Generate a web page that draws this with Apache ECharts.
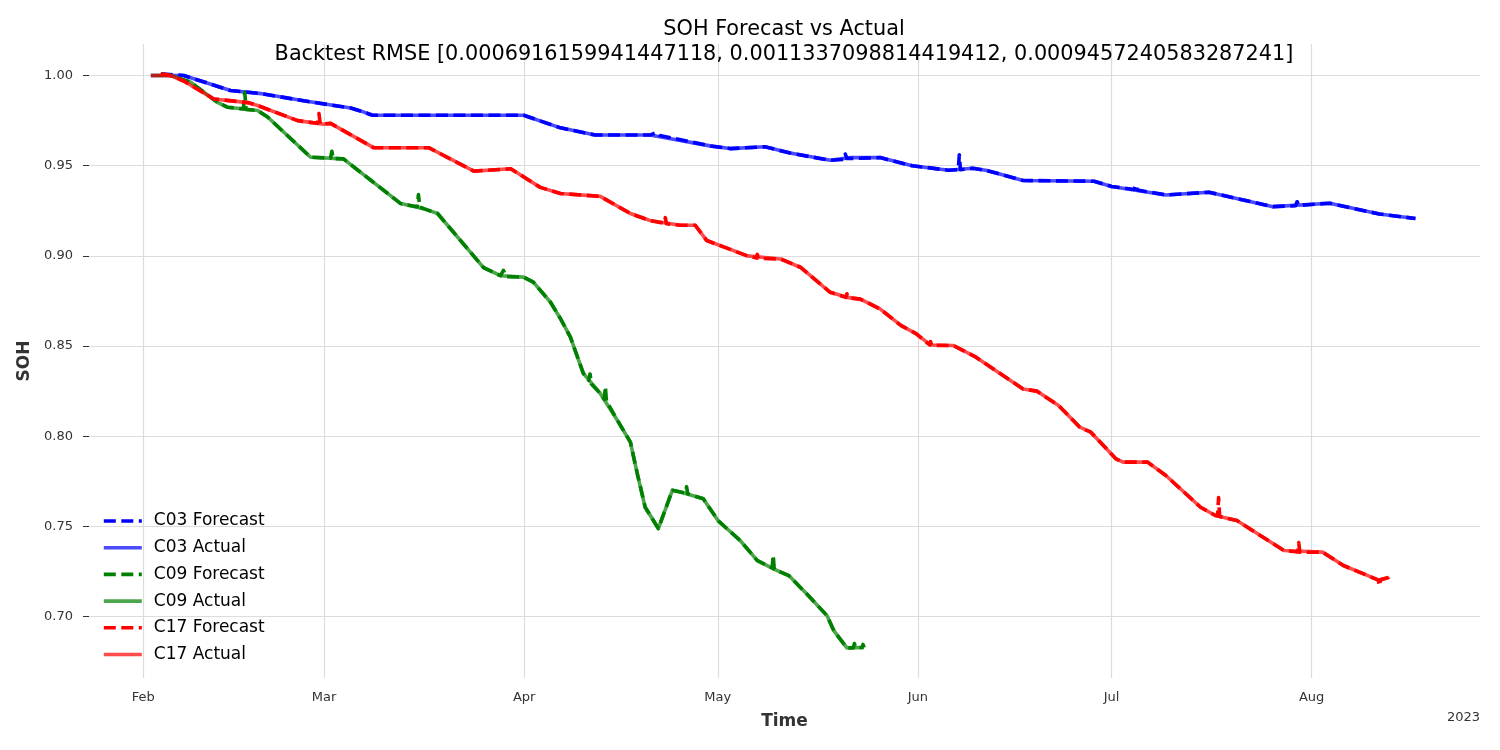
<!DOCTYPE html>
<html>
<head>
<meta charset="utf-8">
<title>SOH Forecast vs Actual</title>
<script src="https://cdn.jsdelivr.net/npm/echarts@6.0.0/dist/echarts.min.js"></script>
<style>
    html, body { margin: 0; padding: 0; background: #fff; }
    #sohChart { width: 1500px; height: 750px; }
</style>
</head>
<body>
<div id="sohChart"></div>
<script>
'use strict';

// title text
var chartTitle = 'SOH Forecast vs Actual\nBacktest RMSE [0.0006916159941447118, 0.0011337098814419412, 0.0009457240583287241]';
var monthNames = ['Jan','Feb','Mar','Apr','May','Jun','Jul','Aug','Sep','Oct','Nov','Dec'];

// C03
var c03Forecast = [
    ['2023-02-03 17:00',1.001],['2023-02-07 06:00',1.000],['2023-02-09 22:00',0.997],
    ['2023-02-14 12:00',0.9917],['2023-02-19 05:00',0.990],['2023-02-25 20:00',0.986],
    ['2023-03-05 03:00',0.982],['2023-03-06 23:00',0.980],['2023-03-08 12:00',0.978],
    ['2023-03-31 22:00',0.978],['2023-04-06 15:00',0.971],['2023-04-12 00:00',0.967],
    ['2023-04-20 12:00',0.967],['2023-04-21 12:00',0.9685],['2023-04-22 00:00',0.9668],
    ['2023-04-29 19:00',0.961],['2023-05-02 22:00',0.9595],['2023-05-08 07:00',0.9605],
    ['2023-05-12 05:00',0.957],['2023-05-18 10:00',0.953],['2023-05-20 12:00',0.9535],
    ['2023-05-20 18:00',0.9565],['2023-05-21 00:00',0.954],['2023-05-26 03:00',0.9545],
    ['2023-05-31 03:00',0.950],['2023-06-05 17:00',0.9475],['2023-06-07 06:00',0.9478],
    ['2023-06-07 10:00',0.956],['2023-06-07 14:00',0.9478],['2023-06-09 12:00',0.9486],
    ['2023-06-11 17:00',0.9473],['2023-06-17 07:00',0.9418],['2023-06-28 07:00',0.9414],
    ['2023-07-01 00:00',0.9385],['2023-07-04 12:00',0.9368],['2023-07-04 18:00',0.9395],
    ['2023-07-05 00:00',0.9365],['2023-07-09 10:00',0.9338],['2023-07-16 02:00',0.9353],
    ['2023-07-26 00:00',0.9273],['2023-07-29 12:00',0.9278],['2023-07-29 18:00',0.930],
    ['2023-07-30 00:00',0.928],['2023-08-03 19:00',0.9292],['2023-08-11 12:00',0.9232],
    ['2023-08-17 02:00',0.9207]
];
var c03Actual = [
    ['2023-02-02 04:00',1.000],['2023-02-07 06:00',1.000],['2023-02-09 22:00',0.997],
    ['2023-02-14 12:00',0.9917],['2023-02-19 05:00',0.990],['2023-02-25 20:00',0.986],
    ['2023-03-05 03:00',0.982],['2023-03-06 23:00',0.980],['2023-03-08 12:00',0.978],
    ['2023-03-31 22:00',0.978],['2023-04-06 15:00',0.971],['2023-04-12 00:00',0.967],
    ['2023-04-20 12:00',0.967],['2023-04-29 19:00',0.961],['2023-05-02 22:00',0.9595],
    ['2023-05-08 07:00',0.9605],['2023-05-12 05:00',0.957],['2023-05-18 10:00',0.953],
    ['2023-05-21 12:00',0.9545],['2023-05-26 03:00',0.9545],['2023-05-31 03:00',0.950],
    ['2023-06-05 17:00',0.9475],['2023-06-09 12:00',0.9486],['2023-06-11 17:00',0.9473],
    ['2023-06-17 07:00',0.9418],['2023-06-28 07:00',0.9414],['2023-07-01 00:00',0.9385],
    ['2023-07-09 10:00',0.9338],['2023-07-16 02:00',0.9353],['2023-07-26 00:00',0.9273],
    ['2023-08-03 19:00',0.9292],['2023-08-11 12:00',0.9232],['2023-08-17 02:00',0.9207]
];

// C09
var c09Forecast = [
    ['2023-02-03 17:00',1.001],['2023-02-05 06:00',1.000],['2023-02-08 08:00',0.9963],
    ['2023-02-12 13:00',0.985],['2023-02-14 02:00',0.9824],['2023-02-16 12:00',0.9815],
    ['2023-02-16 17:00',0.9908],['2023-02-16 22:00',0.9812],['2023-02-18 17:00',0.9806],
    ['2023-02-20 06:00',0.977],['2023-02-26 22:00',0.9547],['2023-03-02 00:00',0.9542],
    ['2023-03-02 05:00',0.958],['2023-03-02 10:00',0.954],['2023-03-04 00:00',0.9538],
    ['2023-03-12 21:00',0.929],['2023-03-15 10:00',0.9272],['2023-03-15 15:00',0.934],
    ['2023-03-15 20:00',0.927],['2023-03-16 10:00',0.9262],['2023-03-18 14:00',0.9235],
    ['2023-03-25 17:00',0.8935],['2023-03-28 08:00',0.889],['2023-03-28 19:00',0.892],
    ['2023-03-29 04:00',0.8885],['2023-03-31 22:00',0.8882],['2023-04-02 10:00',0.8854],
    ['2023-04-05 02:00',0.8743],['2023-04-06 15:00',0.8652],['2023-04-08 04:00',0.8549],
    ['2023-04-10 04:00',0.8348],['2023-04-11 00:00',0.831],['2023-04-11 05:00',0.8345],
    ['2023-04-11 10:00',0.829],['2023-04-12 19:00',0.8237],['2023-04-13 10:00',0.8205],
    ['2023-04-13 14:00',0.8275],['2023-04-13 18:00',0.8195],['2023-04-15 11:00',0.8087],
    ['2023-04-17 11:00',0.7967],['2023-04-18 13:00',0.779],['2023-04-19 18:00',0.7606],
    ['2023-04-21 19:00',0.7488],['2023-04-23 23:00',0.770],['2023-04-25 05:00',0.769],
    ['2023-04-26 00:00',0.7685],['2023-04-26 04:00',0.772],['2023-04-26 08:00',0.768],
    ['2023-04-28 18:00',0.7653],['2023-05-01 02:00',0.753],['2023-05-04 12:00',0.742],
    ['2023-05-07 03:00',0.731],['2023-05-09 10:00',0.727],['2023-05-09 14:00',0.734],
    ['2023-05-09 18:00',0.7262],['2023-05-12 00:00',0.7227],['2023-05-14 19:00',0.7125],
    ['2023-05-17 22:00',0.7005],['2023-05-19 00:00',0.692],['2023-05-21 00:00',0.6826],
    ['2023-05-22 00:00',0.6826],['2023-05-22 04:00',0.685],['2023-05-22 08:00',0.6828],
    ['2023-05-23 09:00',0.6828],['2023-05-23 12:00',0.6845],['2023-05-23 16:00',0.6828]
];
var c09Actual = [
    ['2023-02-02 04:00',1.000],['2023-02-05 06:00',1.000],['2023-02-08 08:00',0.9963],
    ['2023-02-12 13:00',0.985],['2023-02-14 02:00',0.9824],['2023-02-18 17:00',0.9806],
    ['2023-02-20 06:00',0.977],['2023-02-26 22:00',0.9547],['2023-03-04 00:00',0.9538],
    ['2023-03-12 21:00',0.929],['2023-03-16 10:00',0.9262],['2023-03-18 14:00',0.9235],
    ['2023-03-25 17:00',0.8935],['2023-03-28 08:00',0.889],['2023-03-31 22:00',0.8882],
    ['2023-04-02 10:00',0.8854],['2023-04-05 02:00',0.8743],['2023-04-06 15:00',0.8652],
    ['2023-04-08 04:00',0.8549],['2023-04-10 04:00',0.8348],['2023-04-12 19:00',0.8237],
    ['2023-04-15 11:00',0.8087],['2023-04-17 11:00',0.7967],['2023-04-18 13:00',0.779],
    ['2023-04-19 18:00',0.7606],['2023-04-21 19:00',0.7488],['2023-04-23 23:00',0.770],
    ['2023-04-25 05:00',0.769],['2023-04-28 18:00',0.7653],['2023-05-01 02:00',0.753],
    ['2023-05-04 12:00',0.742],['2023-05-07 03:00',0.731],['2023-05-09 14:00',0.7265],
    ['2023-05-12 00:00',0.7227],['2023-05-14 19:00',0.7125],['2023-05-17 22:00',0.7005],
    ['2023-05-19 00:00',0.692],['2023-05-21 00:00',0.6826],['2023-05-23 16:00',0.6828]
];

// C17
var c17Forecast = [
    ['2023-02-03 17:00',1.001],['2023-02-05 06:00',1.000],['2023-02-07 06:00',0.997],
    ['2023-02-11 22:00',0.987],['2023-02-17 04:00',0.985],['2023-02-18 17:00',0.9834],
    ['2023-02-24 22:00',0.975],['2023-02-28 00:00',0.9735],['2023-02-28 05:00',0.979],
    ['2023-02-28 10:00',0.973],['2023-03-02 00:00',0.9735],['2023-03-08 16:00',0.960],
    ['2023-03-17 05:00',0.960],['2023-03-24 05:00',0.947],['2023-03-29 22:00',0.9483],
    ['2023-04-03 12:00',0.938],['2023-04-06 15:00',0.9346],['2023-04-12 19:00',0.933],
    ['2023-04-17 11:00',0.9235],['2023-04-20 12:00',0.9196],['2023-04-22 17:00',0.918],
    ['2023-04-22 21:00',0.9212],['2023-04-23 01:00',0.9178],['2023-04-25 05:00',0.917],
    ['2023-04-27 12:00',0.917],['2023-04-29 07:00',0.9085],['2023-05-05 14:00',0.900],
    ['2023-05-07 00:00',0.8988],['2023-05-07 03:00',0.9008],['2023-05-07 06:00',0.8986],
    ['2023-05-10 17:00',0.8983],['2023-05-13 19:00',0.8937],['2023-05-18 10:00',0.8798],
    ['2023-05-20 20:00',0.877],['2023-05-21 00:00',0.879],['2023-05-21 04:00',0.8768],
    ['2023-05-23 02:00',0.876],['2023-05-26 03:00',0.8706],['2023-05-29 10:00',0.8613],
    ['2023-05-31 17:00',0.8569],['2023-06-02 20:00',0.8506],['2023-06-02 23:00',0.8525],
    ['2023-06-03 03:00',0.8504],['2023-06-06 12:00',0.8503],['2023-06-10 00:00',0.8438],
    ['2023-06-17 07:00',0.8262],['2023-06-19 10:00',0.825],['2023-06-22 19:00',0.817],
    ['2023-06-26 02:00',0.805],['2023-06-27 19:00',0.8022],['2023-07-01 17:00',0.7874],
    ['2023-07-02 19:00',0.7856],['2023-07-06 14:00',0.7856],['2023-07-09 10:00',0.7782],
    ['2023-07-14 19:00',0.7606],['2023-07-17 02:00',0.756],['2023-07-17 10:00',0.7558],
    ['2023-07-17 14:00',0.766],['2023-07-17 18:00',0.7555],['2023-07-20 10:00',0.7532],
    ['2023-07-27 17:00',0.7366],['2023-07-29 20:00',0.7358],['2023-07-30 00:00',0.741],
    ['2023-07-30 04:00',0.7356],['2023-08-02 17:00',0.7357],['2023-08-05 22:00',0.7283],
    ['2023-08-11 08:00',0.7202],['2023-08-11 12:00',0.717],['2023-08-11 16:00',0.7205],
    ['2023-08-12 22:00',0.7216],['2023-08-13 02:00',0.7228]
];
var c17Actual = [
    ['2023-02-02 04:00',1.000],['2023-02-05 06:00',1.000],['2023-02-07 06:00',0.997],
    ['2023-02-11 22:00',0.987],['2023-02-17 04:00',0.985],['2023-02-18 17:00',0.9834],
    ['2023-02-24 22:00',0.975],['2023-02-28 22:00',0.973],['2023-03-02 00:00',0.9735],
    ['2023-03-08 16:00',0.960],['2023-03-17 05:00',0.960],['2023-03-24 05:00',0.947],
    ['2023-03-29 22:00',0.9483],['2023-04-03 12:00',0.938],['2023-04-06 15:00',0.9346],
    ['2023-04-12 19:00',0.933],['2023-04-17 11:00',0.9235],['2023-04-20 12:00',0.9196],
    ['2023-04-25 05:00',0.917],['2023-04-27 12:00',0.917],['2023-04-29 07:00',0.9085],
    ['2023-05-05 14:00',0.900],['2023-05-10 17:00',0.8983],['2023-05-13 19:00',0.8937],
    ['2023-05-18 10:00',0.8798],['2023-05-21 00:00',0.877],['2023-05-23 02:00',0.876],
    ['2023-05-26 03:00',0.8706],['2023-05-29 10:00',0.8613],['2023-05-31 17:00',0.8569],
    ['2023-06-02 22:00',0.8506],['2023-06-06 12:00',0.8503],['2023-06-10 00:00',0.8438],
    ['2023-06-17 07:00',0.8262],['2023-06-19 10:00',0.825],['2023-06-22 19:00',0.817],
    ['2023-06-26 02:00',0.805],['2023-06-27 19:00',0.8022],['2023-07-01 17:00',0.7874],
    ['2023-07-02 19:00',0.7856],['2023-07-06 14:00',0.7856],['2023-07-09 10:00',0.7782],
    ['2023-07-14 19:00',0.7606],['2023-07-17 02:00',0.756],['2023-07-20 10:00',0.7532],
    ['2023-07-27 17:00',0.7366],['2023-08-02 17:00',0.7357],['2023-08-05 22:00',0.7283],
    ['2023-08-11 12:00',0.720],['2023-08-12 22:00',0.7216]
];

var legendNames = ['C03 Forecast','C03 Actual','C09 Forecast','C09 Actual','C17 Forecast','C17 Actual'];
var lineColors = ['#0000ff','rgba(0,0,255,0.7)','#008000','rgba(0,128,0,0.7)','#ff0000','rgba(255,0,0,0.7)'];
var lineData = [c03Forecast, c03Actual, c09Forecast, c09Actual, c17Forecast, c17Actual];

initSohChart();

function initSohChart() {
    var myChart = echarts.init(document.getElementById('sohChart'));
    var font = 'DejaVu Sans';

    var series = [];
    for (var i = 0; i < legendNames.length; i++) {
        var isForecast = legendNames[i].indexOf('Forecast') > -1;
        series.push({
            name: legendNames[i],
            type: 'line',
            data: lineData[i],
            symbol: 'none',
            showSymbol: false,
            color: lineColors[i],
            lineStyle: {
                color: lineColors[i],
                width: 3.6,
                type: isForecast ? [12, 5.5] : 'solid',
                cap: 'butt',
                join: 'round'
            },
            emphasis: { disabled: true }
        });
    }

    var option = {
        animation: false,
        backgroundColor: '#fff',
        textStyle: { fontFamily: font },
        title: {
            text: chartTitle,
            left: 784,
            top: 17,
            padding: 0,
            textAlign: 'center',
            textStyle: {
                fontFamily: font,
                fontSize: 20.8,
                fontWeight: 'normal',
                color: '#000',
                lineHeight: 25
            }
        },
        legend: {
            orient: 'vertical',
            left: 102,
            top: 512.5,
            padding: 0,
            itemWidth: 38,
            itemHeight: 14,
            itemGap: 9.7,
            data: legendNames,
            // hide the marker circle, keep only the line
            itemStyle: { opacity: 0 },
            lineStyle: { width: 3.6 },
            textStyle: {
                fontFamily: font,
                fontSize: 17,
                lineHeight: 17,
                color: '#000',
                padding: [0, 0, 0, 7]
            }
        },
        grid: {
            left: 89,
            right: 20,
            top: 44,
            bottom: 72,
            containLabel: false
        },
        xAxis: {
            type: 'time',
            min: '2023-01-23 14:00',
            max: '2023-08-27 02:00',
            splitNumber: 7,
            name: 'Time',
            nameLocation: 'middle',
            nameGap: 35,
            nameTextStyle: { fontFamily: font, fontSize: 17, fontWeight: 'bold', color: '#333' },
            axisLine: { show: false },
            axisTick: { show: false },
            axisLabel: {
                margin: 13,
                fontFamily: font,
                fontSize: 13,
                color: '#333',
                showMinLabel: false,
                showMaxLabel: false,
                formatter: function (v) {
                    return monthNames[new Date(v).getMonth()];
                }
            },
            splitLine: {
                show: true,
                showMinLine: false,
                showMaxLine: false,
                lineStyle: { color: '#dcdcdc', width: 1.2 }
            }
        },
        yAxis: {
            type: 'value',
            min: 0.6659,
            max: 1.0175,
            splitNumber: 7,
            name: 'SOH',
            nameLocation: 'middle',
            nameGap: 53,
            nameTextStyle: { fontFamily: font, fontSize: 17, fontWeight: 'bold', color: '#333' },
            axisLine: { show: false },
            axisTick: { show: true, length: 6, lineStyle: { color: '#333', width: 1 } },
            axisLabel: {
                margin: 16,
                fontFamily: font,
                fontSize: 13,
                color: '#333',
                showMinLabel: false,
                showMaxLabel: false,
                formatter: function (v) { return v.toFixed(2); }
            },
            splitLine: {
                show: true,
                showMinLine: false,
                showMaxLine: false,
                lineStyle: { color: '#dcdcdc', width: 1.2 }
            }
        },
        graphic: [
            {
                type: 'text',
                right: 20,
                top: 711,
                style: { text: '2023', font: '13px "DejaVu Sans"', fill: '#333' }
            }
        ],
        series: series
    };
    myChart.setOption(option);
}
</script>
</body>
</html>
